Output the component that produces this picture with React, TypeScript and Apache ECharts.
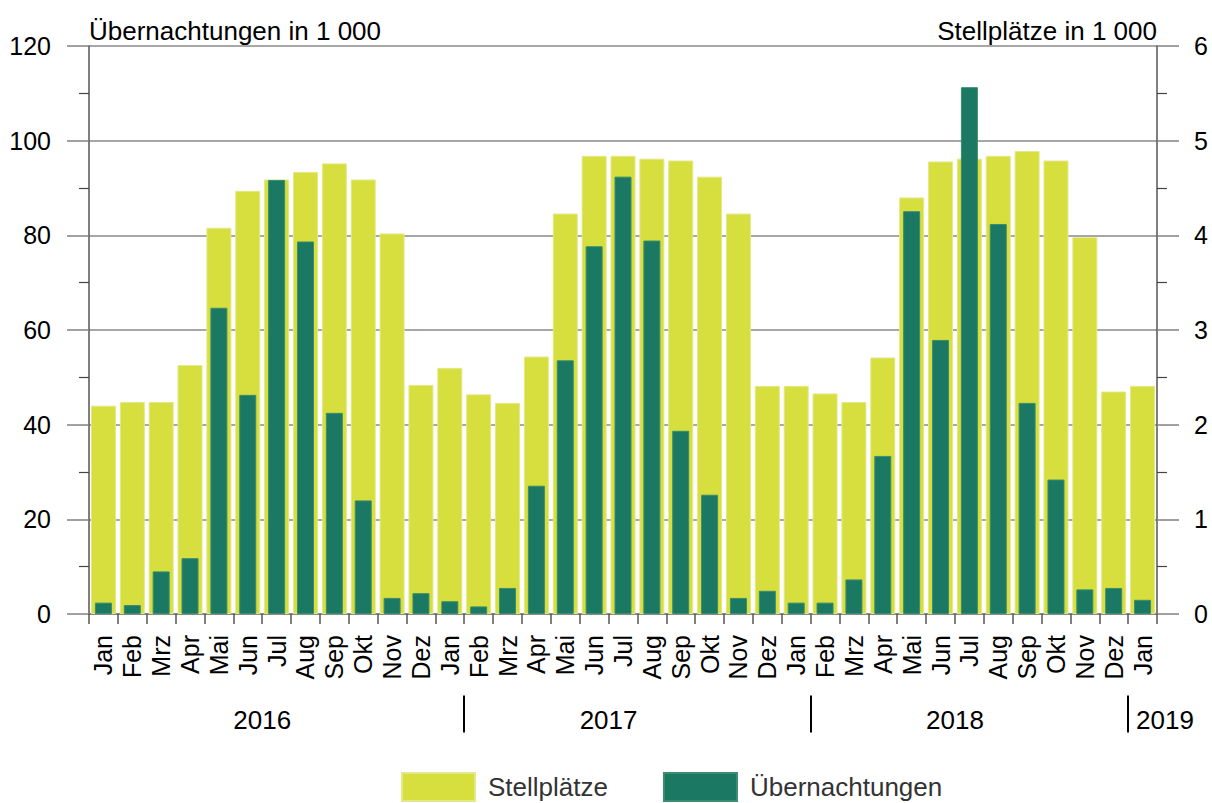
import React, { useEffect, useRef } from "react";
import * as echarts from "echarts";

const months = [
  "Jan", "Feb", "Mrz", "Apr", "Mai", "Jun", "Jul", "Aug", "Sep", "Okt", "Nov", "Dez",
  "Jan", "Feb", "Mrz", "Apr", "Mai", "Jun", "Jul", "Aug", "Sep", "Okt", "Nov", "Dez",
  "Jan", "Feb", "Mrz", "Apr", "Mai", "Jun", "Jul", "Aug", "Sep", "Okt", "Nov", "Dez",
  "Jan",
];

// Stellplätze in 1 000 (right axis)
const stellplaetze = [
  2.20, 2.24, 2.24, 2.63, 4.08, 4.47, 4.59, 4.67, 4.76, 4.59, 4.02, 2.42,
  2.60, 2.32, 2.23, 2.72, 4.23, 4.84, 4.84, 4.81, 4.79, 4.62, 4.23, 2.41,
  2.41, 2.33, 2.24, 2.71, 4.40, 4.78, 4.81, 4.84, 4.89, 4.79, 3.98, 2.35,
  2.41,
];

// Übernachtungen in 1 000 (left axis)
const uebernachtungen = [
  2.4, 1.9, 9.0, 11.8, 64.7, 46.3, 91.7, 78.7, 42.5, 24.0, 3.4, 4.4,
  2.7, 1.6, 5.5, 27.1, 53.6, 77.7, 92.4, 78.9, 38.7, 25.2, 3.4, 4.9,
  2.4, 2.4, 7.3, 33.4, 85.1, 57.9, 111.3, 82.4, 44.6, 28.4, 5.2, 5.5,
  3.0,
];

const years = ["2016", "2017", "2018", "2019"];
// boundary indices (0..37) where year labels / dividers sit
const yearLabelAt = [6, 18, 30, 37];
const dividerAt = [13, 25, 36];

const leftTicks = [0, 20, 40, 60, 80, 100, 120];
const rightTicks = [0, 1, 2, 3, 4, 5, 6];

const FONT = "'Liberation Sans', Arial, Helvetica, sans-serif";
const LIGHT = "#d6df3d";
const DARK = "#1b7862";

export default function App() {
  const ref = useRef<HTMLDivElement>(null);

  useEffect(() => {
    if (!ref.current) return;
    const chart = echarts.init(ref.current, undefined, { renderer: "svg" });

    const boundaries = Array.from({ length: months.length + 1 }, (_, i) => String(i));
    const yearText = (idx: number) => {
      const k = yearLabelAt.indexOf(idx);
      if (k < 0) return "";
      if (k === years.length - 1) return "{r|" + years[k] + "}";
      return years[k];
    };

    chart.setOption({
      animation: false,
      textStyle: { fontFamily: FONT },
      grid: { left: 89, right: 55, top: 46, bottom: 189, containLabel: false },
      legend: {
        data: ["Stellplätze", "Übernachtungen"],
        left: 401,
        bottom: 1,
        itemWidth: 73,
        itemHeight: 28,
        itemGap: 55,
        icon: "rect",
        padding: 0,
        textStyle: { fontSize: 26, color: "#333", fontFamily: FONT, padding: [0, 0, 0, 8] },
      },
      xAxis: [
        {
          type: "category",
          data: months,
          position: "bottom",
          axisLine: { show: true, lineStyle: { color: "#808080", width: 1.5 } },
          axisTick: { show: true, interval: 0, length: 10, lineStyle: { color: "#555", width: 1.5 } },
          axisLabel: {
            interval: 0,
            rotate: 90,
            fontSize: 25,
            color: "#000",
            margin: 21,
            fontFamily: FONT,
          },
        },
        {
          type: "category",
          data: months,
          show: false,
        },
        {
          type: "category",
          data: boundaries,
          boundaryGap: false,
          position: "bottom",
          offset: 81.5,
          axisLine: { show: false },
          axisTick: {
            show: true,
            length: 37,
            interval: (i: number) => dividerAt.indexOf(i) >= 0,
            lineStyle: { color: "#000", width: 2 },
          },
          axisLabel: {
            show: true,
            interval: (i: number) => yearLabelAt.indexOf(i) >= 0,
            formatter: (_v: string, i: number) => yearText(i),
            fontSize: 26,
            color: "#000",
            margin: 11,
            fontFamily: FONT,
            rich: { r: { fontSize: 26, color: "#000", fontFamily: FONT, padding: [0, 0, 0, 16] } },
          },
        },
      ],
      yAxis: [
        {
          type: "value",
          min: leftTicks[0],
          max: leftTicks[leftTicks.length - 1],
          interval: leftTicks[1] - leftTicks[0],
          position: "left",
          name: "Übernachtungen in 1 000",
          nameLocation: "end",
          nameGap: 2,
          nameTextStyle: {
            fontSize: 26,
            color: "#000",
            align: "left",
            verticalAlign: "bottom",
            fontFamily: FONT,
          },
          axisLine: { show: true, lineStyle: { color: "#555", width: 1.5 } },
          axisTick: { show: true, length: 22, lineStyle: { color: "#808080", width: 1.5 } },
          minorTick: { show: true, splitNumber: 2, length: 10, lineStyle: { color: "#444", width: 1.2 } },
          splitLine: { show: true, lineStyle: { color: "#8a8a8a", width: 1.5 } },
          axisLabel: { fontSize: 25, color: "#000", margin: 38, fontFamily: FONT },
        },
        {
          type: "value",
          min: rightTicks[0],
          max: rightTicks[rightTicks.length - 1],
          interval: rightTicks[1] - rightTicks[0],
          position: "right",
          name: "Stellplätze in 1 000",
          nameLocation: "end",
          nameGap: 2,
          nameTextStyle: {
            fontSize: 26,
            color: "#000",
            align: "right",
            verticalAlign: "bottom",
            fontFamily: FONT,
          },
          axisLine: { show: true, lineStyle: { color: "#555", width: 1.5 } },
          axisTick: { show: true, length: 22, lineStyle: { color: "#808080", width: 1.5 } },
          minorTick: { show: true, splitNumber: 2, length: 10, lineStyle: { color: "#444", width: 1.2 } },
          splitLine: { show: false },
          axisLabel: { fontSize: 25, color: "#000", margin: 37, fontFamily: FONT },
        },
      ],
      series: [
        {
          name: "Stellplätze",
          type: "bar",
          xAxisIndex: 0,
          yAxisIndex: 1,
          data: stellplaetze,
          barWidth: 25,
          itemStyle: { color: LIGHT, borderColor: "#e3e88a", borderWidth: 1 },
        },
        {
          name: "Übernachtungen",
          type: "bar",
          xAxisIndex: 1,
          yAxisIndex: 0,
          data: uebernachtungen,
          barWidth: 17,
          itemStyle: { color: DARK, borderColor: "#3a8d6f", borderWidth: 1 },
        },
      ],
    });

    return () => chart.dispose();
  }, []);

  return <div ref={ref} style={{ width: 1212, height: 803, position: "absolute", left: 0, top: 0 }} />;
}
